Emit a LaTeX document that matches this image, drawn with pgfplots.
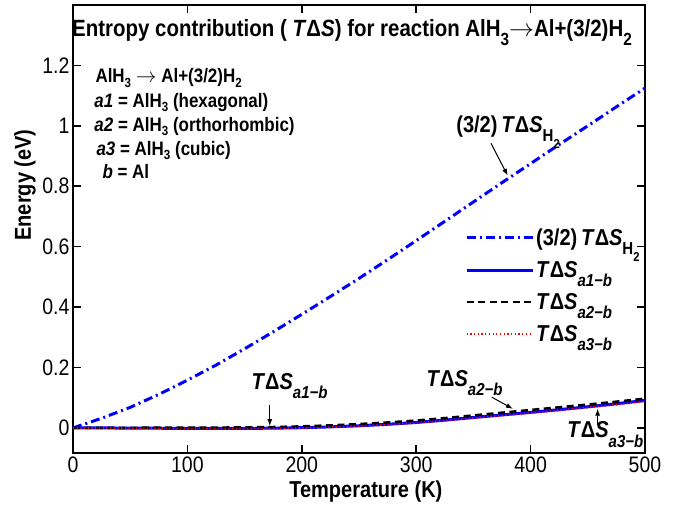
\documentclass[border=0pt]{standalone}
\usepackage{fontspec}
\setmainfont{Liberation Sans}[FakeStretch=0.87]
\usepackage{graphicx}
\usepackage{pgfplots}
\pgfplotsset{compat=1.18}
\usetikzlibrary{arrows.meta}
\newcommand{\subs}[1]{\raisebox{-0.75ex}{\scalebox{0.75}{#1}}}
\newcommand{\subb}[1]{\raisebox{-0.4ex}{\scalebox{0.68}{#1}}}
\newcommand{\TDS}{\textit{T}Δ\textit{S}}
\newcommand{\fA}{\fontsize{23}{27}\selectfont\bfseries}
\newcommand{\fT}{\fontsize{23.5}{27}\selectfont\bfseries}
\newcommand{\fB}{\fontsize{19.5}{24}\selectfont\bfseries}
\begin{document}
\begin{tikzpicture}
\path[use as bounding box] (-73pt,-51pt) rectangle (612pt,453pt);
\begin{axis}[
 at={(0,0)}, anchor=south west,
 scale only axis, width=572pt, height=448pt,
 xmin=0, xmax=500, ymin=-0.083, ymax=1.4,
 clip=false,
 xtick={0,100,200,300,400,500}, ytick={0,0.2,0.4,0.6,0.8,1,1.2},
 tick align=inside, major tick length=8pt,
 axis line style={line width=1.6pt},
 major tick style={line width=1.6pt, black},
 tick label style={font=\fontsize{22.4}{25}\selectfont},
 /pgf/number format/assume math mode=true,
 xlabel={Temperature (K)}, ylabel={Energy (eV)},
 label style={font=\fA},
 xlabel style={at={(axis description cs:0.512,-0.085)}, anchor=center},
 ylabel style={at={(axis description cs:-0.084,0.598)}, anchor=center},
 legend style={draw=none, fill=none, at={(axis description cs:0.68,0.51)}, anchor=north west,
   font=\fA, row sep=10.5pt},
 legend cell align=left,
 legend image code/.code={\draw[#1] (0pt,0pt) -- (66pt,0pt);},
]
\addplot[blue, line width=3pt, dash pattern=on 9pt off 4pt on 2pt off 4pt] coordinates {
(0,0) (25,0.032) (50,0.068) (75,0.111) (100,0.158) (125,0.208) (150,0.262) (175,0.318)
(200,0.376) (225,0.435) (250,0.495) (275,0.557) (300,0.620) (325,0.684) (350,0.748)
(375,0.812) (400,0.875) (425,0.938) (450,1.000) (475,1.063) (500,1.125)};
\addlegendentry{(3/2)\,\TDS\subs{H\subs{2}}}
\addplot[blue, line width=3pt] coordinates {
(0,0) (25,0) (50,-0.0005) (75,-0.001) (100,-0.0015) (125,-0.0018) (150,-0.0015) (175,-0.0008)
(200,0.0008) (225,0.0035) (250,0.0072) (275,0.0120) (300,0.0180) (325,0.0258) (350,0.0345)
(375,0.0430) (400,0.0515) (425,0.0605) (450,0.0700) (475,0.0800) (500,0.0910)};
\addlegendentry{\TDS\subs{\textit{a1−b}}}
\addplot[black, line width=2.5pt, dash pattern=on 7pt off 4.5pt] coordinates {
(0,0) (25,0.0003) (50,0.0005) (75,0.0008) (100,0.001) (125,0.0012) (150,0.0018) (175,0.003)
(200,0.0052) (225,0.0085) (250,0.0128) (275,0.0182) (300,0.0245) (325,0.0325) (350,0.0415)
(375,0.0505) (400,0.0595) (425,0.0685) (450,0.0775) (475,0.0870) (500,0.0970)};
\addlegendentry{\TDS\subs{\textit{a2−b}}}
\addplot[red, line width=1.8pt, dash pattern=on 1.2pt off 2.5pt] coordinates {
(0,0) (25,-0.0002) (50,-0.0008) (75,-0.0014) (100,-0.002) (125,-0.0024) (150,-0.0022) (175,-0.0015)
(200,0) (225,0.0026) (250,0.0062) (275,0.0108) (300,0.0166) (325,0.0240) (350,0.0325)
(375,0.0408) (400,0.0492) (425,0.0580) (450,0.0672) (475,0.0770) (500,0.0875)};
\addlegendentry{\TDS\subs{\textit{a3−b}}}
% title
\node[anchor=base, font=\fT] at (axis cs:243.9,1.296) {Entropy contribution ( \TDS) for reaction AlH\subs{3}$\rightarrow$Al+(3/2)H\subs{2}};
% info block
\node[anchor=base west, font=\fB] at (axis cs:16.6,1.142) {AlH\subb{3} $\rightarrow$ Al+(3/2)H\subb{2}};
\node[anchor=base west, font=\fB] at (axis cs:15.7,1.061) {\textit{a1} = AlH\subb{3} (hexagonal)};
\node[anchor=base west, font=\fB] at (axis cs:15.7,0.982) {\textit{a2} = AlH\subb{3} (orthorhombic)};
\node[anchor=base west, font=\fB] at (axis cs:17.5,0.902) {\textit{a3} = AlH\subb{3} (cubic)};
\node[anchor=base west, font=\fB] at (axis cs:22.7,0.826) {\textit{b} = Al};
% annotations
\node[anchor=base west, font=\fA] at (axis cs:332,0.979) {(3/2)\,\TDS\subs{H\subs{2}}};
\draw[-{Latex[length=7pt,width=5pt]}, line width=1pt] (axis cs:365.4,0.942) -- (axis cs:380,0.835);
\node[anchor=base west, font=\fA] at (axis cs:153,0.126) {\TDS\subs{\textit{a1−b}}};
\draw[-{Latex[length=7pt,width=5pt]}, line width=1pt] (axis cs:172,0.076) -- (axis cs:172,0.006);
\node[anchor=base west, font=\fA] at (axis cs:306,0.136) {\TDS\subs{\textit{a2−b}}};
\draw[-{Latex[length=7pt,width=5pt]}, line width=1pt] (axis cs:366,0.102) -- (axis cs:384.6,0.063);
\node[anchor=base west, font=\fA] at (axis cs:429,-0.033) {\TDS\subs{\textit{a3−b}}};
\draw[-{Latex[length=7pt,width=5pt]}, line width=1pt] (axis cs:458.6,0.010) -- (axis cs:458.6,0.064);
\end{axis}
\end{tikzpicture}
\end{document}
